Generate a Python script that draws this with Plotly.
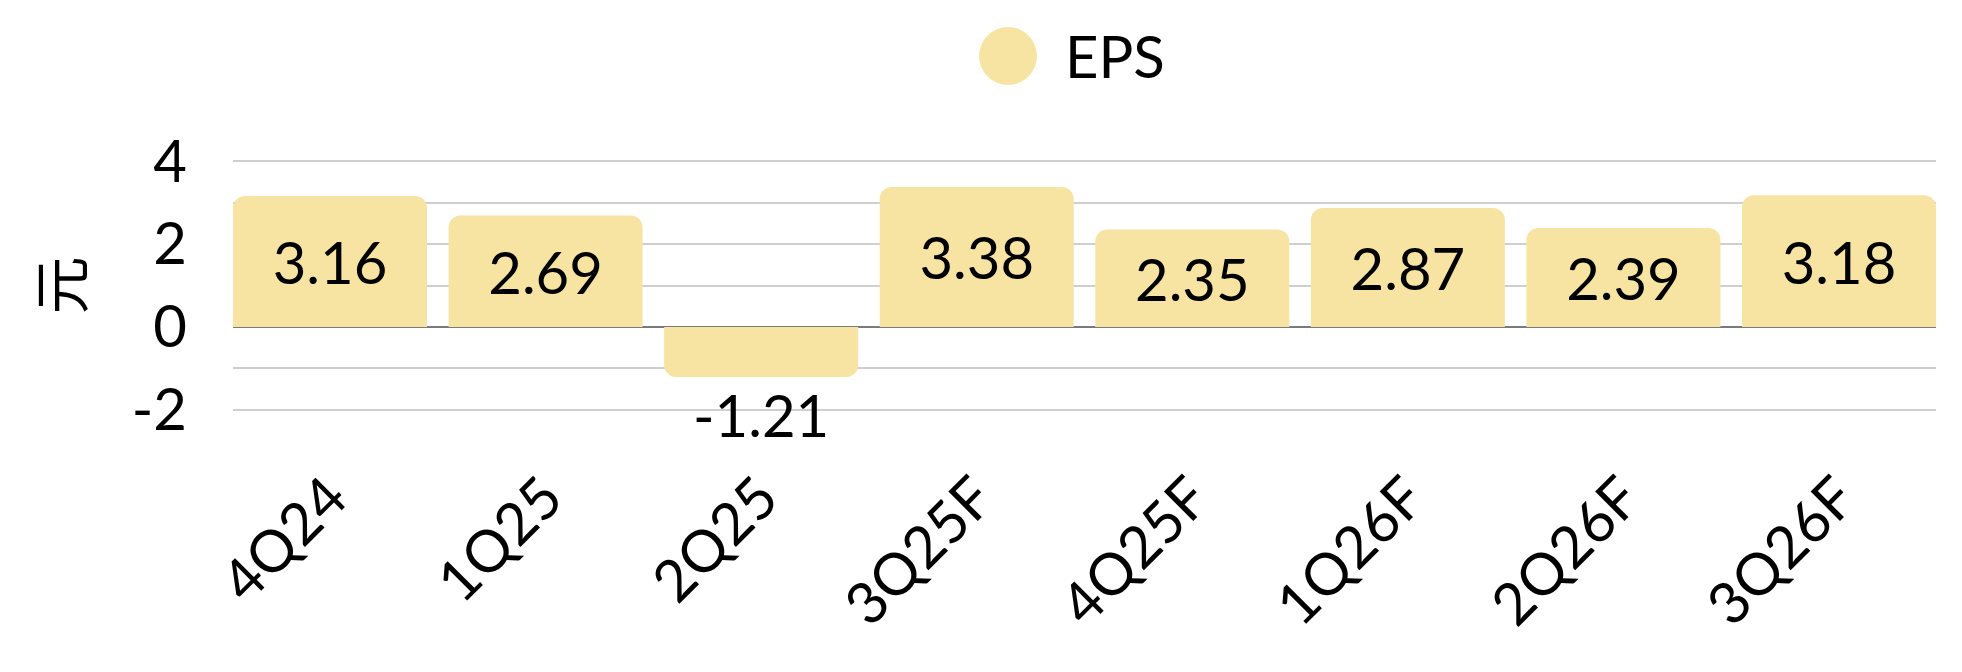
import plotly.graph_objects as go

categories = ["4Q24", "1Q25", "2Q25", "3Q25F", "4Q25F", "1Q26F", "2Q26F", "3Q26F"]
eps_values = [3.16, 2.69, -1.21, 3.38, 2.35, 2.87, 2.39, 3.18]
series_name = "EPS"
y_title = "元"
y_tick_vals = [-2, 0, 2, 4]
y_tick_text = ["-2", "0", "2", "4"]

BAR_COLOR = "#F7E3A2"
FONT = "Lato, 'Noto Sans', sans-serif"
FS = 58

# page body has an 8px default margin; size the figure to fit the window
OFF = 8
W, H = 1962 - OFF, 672 - OFF
ML, MR, MT, MB = 233 - OFF, 26, 160 - OFF, 261
plot_w = W - ML - MR
plot_h = H - MT - MB

fig = go.Figure()
fig.add_trace(go.Bar(
    x=categories,
    y=eps_values,
    name=series_name,
    marker=dict(color=BAR_COLOR, line=dict(width=0), cornerradius=12),
    text=[f"{v:.2f}" for v in eps_values],
    texttemplate="%{text}",
    textposition=["outside" if v < 0 else "inside" for v in eps_values],
    insidetextanchor="middle",
    textangle=0,
    constraintext="none",
    cliponaxis=False,
    textfont=dict(family=FONT, size=FS, color="#000000"),
    outsidetextfont=dict(family=FONT, size=FS, color="#000000"),
    insidetextfont=dict(family=FONT, size=FS, color="#000000"),
    showlegend=False,
))

# custom legend (large circle marker + label)
leg_px_y = 56 - OFF
leg_x = (1008 - OFF - ML) / plot_w
leg_y = (H - MB - leg_px_y) / plot_h
fig.add_shape(type="circle", xref="paper", yref="paper",
              xsizemode="pixel", ysizemode="pixel",
              xanchor=leg_x, yanchor=leg_y,
              x0=-29, x1=29, y0=-29, y1=29,
              fillcolor=BAR_COLOR, line=dict(width=0))
fig.add_annotation(text=series_name, xref="paper", yref="paper",
                   x=(1063 - OFF - ML) / plot_w, y=leg_y, xanchor="left", yanchor="middle",
                   showarrow=False, font=dict(family=FONT, size=FS, color="#000000"))

fig.update_layout(
    width=W, height=H,
    margin=dict(l=ML, r=MR, t=MT, b=MB, autoexpand=False),
    paper_bgcolor="white", plot_bgcolor="white",
    bargap=0.1,
    font=dict(family=FONT, size=FS, color="#000000"),
    showlegend=False,
)
fig.update_xaxes(
    type="category",
    range=[-0.45, len(categories) - 0.55],
    tickangle=-45,
    tickfont=dict(family=FONT, size=FS, color="#000000"),
    showgrid=False, showline=False, zeroline=False,
    ticks="", ticklabelstandoff=40,
    automargin=False,
)
fig.update_yaxes(
    range=[-2.03, 4.03],
    tickvals=y_tick_vals,
    ticktext=y_tick_text,
    tickfont=dict(family=FONT, size=FS, color="#000000"),
    showgrid=True, gridcolor="#CFCFCF", gridwidth=2,
    minor=dict(dtick=1, tick0=0, showgrid=True, gridcolor="#CFCFCF", gridwidth=2),
    zeroline=True, zerolinecolor="#7A7A7A", zerolinewidth=2,
    showline=False, ticks="", ticklabelstandoff=45,
    title=dict(text=y_title, font=dict(family="'Noto Sans CJK SC', sans-serif", size=FS, color="#000000"), standoff=29),
    automargin=False,
)

fig.write_html("out.html")
